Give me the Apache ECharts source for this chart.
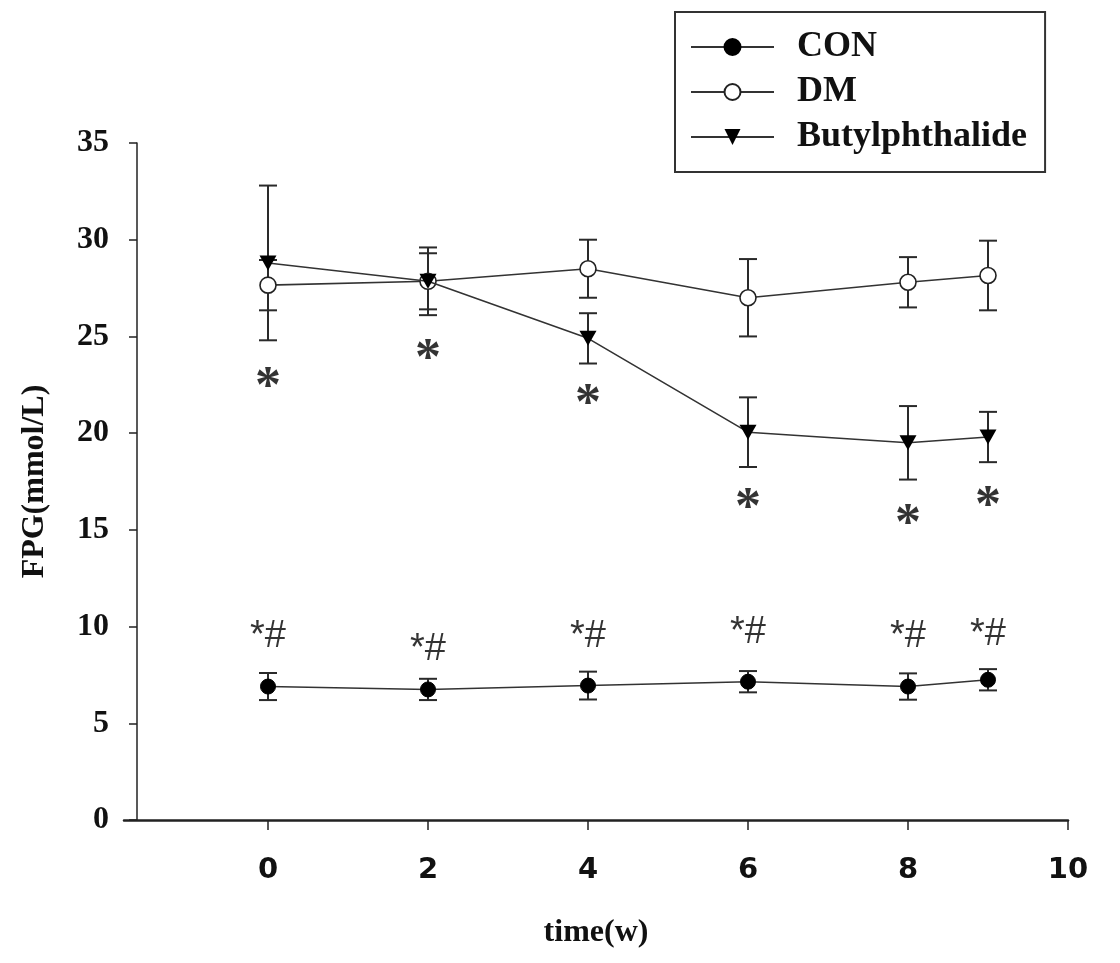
<!DOCTYPE html>
<html>
<head>
<meta charset="utf-8">
<script src="https://cdn.jsdelivr.net/npm/echarts@6/dist/echarts.min.js"></script>
<style>
html,body{margin:0;padding:0;background:#fff;}
#chart{width:1120px;height:963px;}
</style>
</head>
<body>
<div id="chart"></div>
<script>
// ---- data ----
const weeks = [0, 2, 4, 6, 8, 9];
const conMean = [6.9, 6.75, 6.95, 7.15, 6.9, 7.25];
const conSD   = [0.7, 0.55, 0.72, 0.55, 0.68, 0.55];
const dmMean  = [27.65, 27.85, 28.5, 27.0, 27.8, 28.15];
const dmSD    = [1.3, 1.75, 1.5, 2.0, 1.3, 1.8];
const butMean = [28.8, 27.85, 24.9, 20.05, 19.5, 19.8];
const butSD   = [4.0, 1.45, 1.3, 1.8, 1.9, 1.3];
const xTicks = [0, 2, 4, 6, 8, 10];
// significance annotations (value positions on y axis)
const starText = '*';
const starY = [23.0, 24.45, 22.1, 16.7, 15.9, 16.8];
const starHashText = '*#';
const starHashY = [9.5, 8.8, 9.5, 9.7, 9.5, 9.6];

const names = ['CON', 'DM', 'Butylphthalide'];

function pairs(m) { return weeks.map((w, i) => [w, m[i]]); }
function errData(m, s) { return weeks.map((w, i) => [w, m[i] - s[i], m[i] + s[i]]); }

function errRender(params, api) {
  const x = api.value(0), lo = api.value(1), hi = api.value(2);
  const a = api.coord([x, lo]), b = api.coord([x, hi]);
  const hw = 9;
  const st = { stroke: '#2a2a2a', lineWidth: 2 };
  return {
    type: 'group',
    children: [
      { type: 'line', shape: { x1: a[0], y1: a[1], x2: b[0], y2: b[1] }, style: st },
      { type: 'line', shape: { x1: a[0] - hw, y1: a[1], x2: a[0] + hw, y2: a[1] }, style: st },
      { type: 'line', shape: { x1: b[0] - hw, y1: b[1], x2: b[0] + hw, y2: b[1] }, style: st }
    ]
  };
}

const triDown = 'path://M0,0 L10,0 L5,9 Z';

const chart = echarts.init(document.getElementById('chart'), null, { renderer: 'canvas' });
chart.setOption({
  animation: false,
  backgroundColor: '#fff',
  grid: { left: 124, right: 52, top: 143, bottom: 143, containLabel: false },
  legend: {
    data: names,
    orient: 'vertical',
    left: 675,
    top: 12,
    padding: [17, 18, 17, 15],
    itemGap: 9,
    itemWidth: 83,
    itemHeight: 20,
    borderColor: '#333',
    borderWidth: 2,
    textStyle: {
      fontFamily: 'Liberation Serif', fontWeight: 'bold', fontSize: 36, lineHeight: 36, color: '#111',
      padding: [0, 0, 0, 18]
    }
  },
  xAxis: {
    type: 'value',
    min: -1.8,
    max: 10,
    name: 'time(w)',
    nameLocation: 'middle',
    nameGap: 97,
    nameTextStyle: { fontFamily: 'Liberation Serif', fontWeight: 'bold', fontSize: 32, color: '#111' },
    axisLine: { show: true, onZero: false, lineStyle: { color: '#222', width: 2.5 } },
    axisTick: { show: true, length: 10, customValues: xTicks, lineStyle: { color: '#222', width: 1.5 } },
    axisLabel: {
      customValues: xTicks, margin: 36,
      fontFamily: 'DejaVu Sans', fontWeight: 'bold', fontSize: 29, color: '#111'
    },
    splitLine: { show: false }
  },
  yAxis: {
    type: 'value',
    min: 0,
    max: 35,
    interval: 5,
    offset: -13,
    name: 'FPG(mmol/L)',
    nameLocation: 'middle',
    nameGap: 86,
    nameTextStyle: { fontFamily: 'Liberation Serif', fontWeight: 'bold', fontSize: 32, color: '#111' },
    axisLine: { show: true, onZero: false, lineStyle: { color: '#222', width: 1.5 } },
    axisTick: { show: true, length: 8, lineStyle: { color: '#222', width: 1.5 } },
    axisLabel: { margin: 28, fontFamily: 'Liberation Serif', fontWeight: 'bold', fontSize: 32, color: '#111' },
    splitLine: { show: false }
  },
  series: [
    { type: 'custom', name: 'errCON', renderItem: errRender, data: errData(conMean, conSD), z: 1, silent: true },
    { type: 'custom', name: 'errDM', renderItem: errRender, data: errData(dmMean, dmSD), z: 1, silent: true },
    { type: 'custom', name: 'errBut', renderItem: errRender, data: errData(butMean, butSD), z: 1, silent: true },
    {
      type: 'line', name: 'CON', data: pairs(conMean), z: 3,
      symbol: 'circle', symbolSize: 15,
      lineStyle: { color: '#333', width: 1.6 },
      itemStyle: { color: '#000', borderColor: '#000', borderWidth: 1 }
    },
    {
      type: 'line', name: 'DM', data: pairs(dmMean), z: 3,
      symbol: 'circle', symbolSize: 16,
      lineStyle: { color: '#333', width: 1.6 },
      itemStyle: { color: '#fff', borderColor: '#222', borderWidth: 1.6 }
    },
    {
      type: 'line', name: 'Butylphthalide', data: pairs(butMean), z: 4,
      symbol: triDown, symbolSize: [17, 15],
      lineStyle: { color: '#333', width: 1.6 },
      itemStyle: { color: '#000', borderColor: '#000', borderWidth: 0 }
    },
    {
      type: 'scatter', name: 'star', silent: true, z: 5,
      data: weeks.map((w, i) => [w, starY[i]]),
      symbolSize: 1, itemStyle: { color: 'rgba(0,0,0,0)' },
      label: {
        show: true, position: 'inside', formatter: starText, offset: [0, 13],
        fontFamily: 'Liberation Serif', fontWeight: 'bold', fontSize: 52, color: '#000'
      }
    },
    {
      type: 'scatter', name: 'starHash', silent: true, z: 5,
      data: weeks.map((w, i) => [w, starHashY[i]]),
      symbolSize: 1, itemStyle: { color: 'rgba(0,0,0,0)' },
      label: {
        show: true, position: 'inside', formatter: starHashText,
        fontFamily: 'Liberation Sans', fontSize: 38, color: '#000'
      }
    }
  ]
});
</script>
</body>
</html>
